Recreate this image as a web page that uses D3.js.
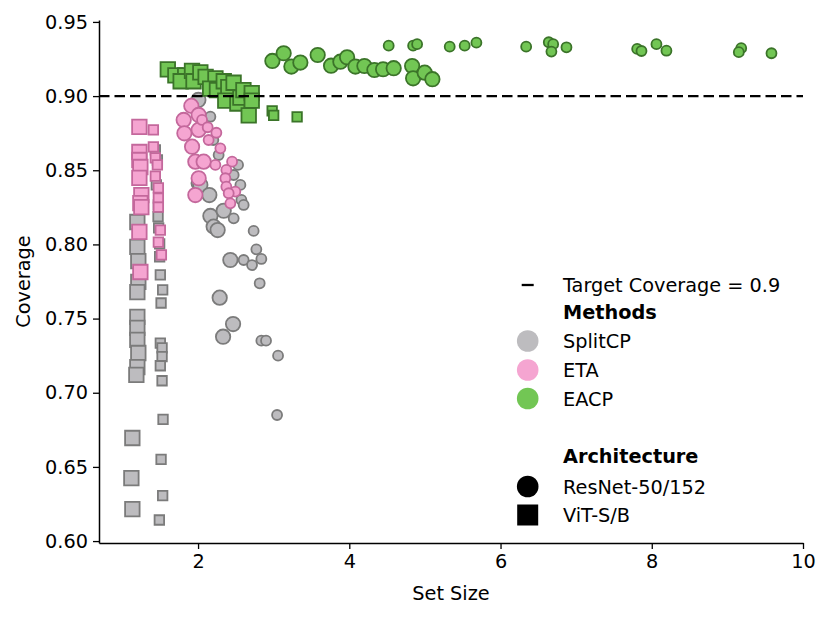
<!DOCTYPE html>
<html>
<head>
<meta charset="utf-8">
<script src="https://cdn.jsdelivr.net/npm/d3@7"></script>
<style>
  body { margin: 0; background: #fff; }
  svg text { font-family: "DejaVu Sans", sans-serif; }
</style>
</head>
<body>
<svg id="chart" width="830" height="618"></svg>
<script>
// Data ----------------------------------------
// [set size, coverage] pairs, one array per method / architecture / model size
const splitcpResnetBig = [[2.004,0.8974],[2.008,0.8412],[2.030,0.8401],[2.149,0.8333],[2.163,0.8192],[2.339,0.8227],
  [2.206,0.8120],[2.259,0.8097],[2.427,0.7895],[2.286,0.7641],[2.463,0.7463],[2.331,0.7378]];
const splitcpResnetSmall = [[2.163,0.8861],[2.202,0.8704],[2.272,0.8603],[2.529,0.8536],[2.471,0.8468],[2.560,0.8401],
  [2.573,0.8300],[2.603,0.8266],[2.471,0.8176],[2.735,0.8091],[2.771,0.7967],[2.603,0.7895],[2.714,0.7861],
  [2.837,0.7902],[2.815,0.7738],[2.837,0.7351],[2.899,0.7351],[3.058,0.7250],[3.045,0.6850]];
const splitcpVitBig = [[1.197,0.8151],[1.197,0.7983],[1.210,0.7888],[1.210,0.7747],[1.197,0.7679],[1.197,0.7511],
  [1.197,0.7437],[1.197,0.7356],[1.210,0.7268],[1.197,0.7173],[1.184,0.7120],[1.131,0.6695],[1.118,0.6425],[1.131,0.6216]];
const splitcpVitSmall = [[1.435,0.8637],[1.462,0.8569],[1.448,0.8401],[1.475,0.8266],[1.471,0.8187],[1.479,0.8111],
  [1.492,0.8003],[1.492,0.7917],[1.501,0.7794],[1.532,0.7693],[1.511,0.7605],[1.501,0.7335],[1.524,0.7302],
  [1.524,0.7243],[1.501,0.7182],[1.524,0.7081],[1.537,0.6821],[1.511,0.6551],[1.532,0.6306],[1.488,0.6142]];

const etaResnetBig = [[1.911,0.8934],[1.810,0.8839],[2.008,0.8873],[1.819,0.8749],[2.008,0.8772],[1.921,0.8659],
  [1.964,0.8558],[2.074,0.8558],[2.008,0.8446],[1.964,0.8333]];
const etaResnetSmall = [[2.053,0.8839],[2.127,0.8790],[2.242,0.8753],[2.140,0.8704],[2.295,0.8648],[2.229,0.8536],
  [2.450,0.8558],[2.374,0.8502],[2.361,0.8446],[2.374,0.8389],[2.493,0.8356],[2.405,0.8345],[2.427,0.8277]];
const etaVitBig = [[1.224,0.8792],[1.224,0.8623],[1.224,0.8569],[1.237,0.8522],[1.224,0.8448],[1.250,0.8333],
  [1.237,0.8279],[1.250,0.8252],[1.224,0.8084],[1.237,0.7814]];
const etaVitSmall = [[1.409,0.8772],[1.409,0.8657],[1.435,0.8583],[1.462,0.8536],[1.435,0.8461],[1.475,0.8381],
  [1.475,0.8313],[1.475,0.8252],[1.501,0.8097],[1.475,0.8016],[1.515,0.7929]];

const eacpResnetBig = [[2.983,0.9237],[3.132,0.9289],[3.234,0.9199],[3.353,0.9226],[3.582,0.9277],[3.759,0.9205],
  [3.882,0.9232],[3.971,0.9262],[4.081,0.9199],[4.200,0.9203],[4.332,0.9176],[4.447,0.9181],[4.587,0.9188],
  [4.831,0.9203],[4.844,0.9120],[4.997,0.9158],[5.099,0.9114]];
const eacpResnetSmall = [[4.521,0.9340],[4.844,0.9340],[4.897,0.9350],[5.328,0.9333],[5.526,0.9340],[5.681,0.9360],
  [6.339,0.9333],[6.638,0.9363],[6.696,0.9350],[6.673,0.9300],[6.872,0.9329],[7.807,0.9318],[7.864,0.9304],
  [8.062,0.9350],[8.194,0.9306],[9.183,0.9323],[9.151,0.9296],[9.583,0.9289]];
const eacpVitBig = [[1.60,0.918],[1.70,0.914],[1.83,0.914],[1.77,0.910],[1.92,0.917],[1.94,0.910],[2.03,0.916],
  [2.10,0.913],[2.23,0.912],[2.16,0.905],[2.25,0.904],[2.34,0.910],[2.40,0.906],[2.47,0.909],[2.36,0.897],
  [2.52,0.895],[2.56,0.899],[2.60,0.904],[2.71,0.902],[2.71,0.897],[2.67,0.887]];
const eacpVitSmall = [[2.98,0.890],[3.00,0.887],[3.31,0.886]];

const targetCoverage = 0.9;
const xTicks = [2, 4, 6, 8, 10];
const yTicks = [0.60, 0.65, 0.70, 0.75, 0.80, 0.85, 0.90, 0.95];
const methodNames = ["SplitCP", "ETA", "EACP"];
const archNames = ["ResNet-50/152", "ViT-S/B"];

// Styles ----------------------------------------
const methodFill = { SplitCP: "#bdbcbf", ETA: "#f5a5d1", EACP: "#72c654" };
const methodEdge = { SplitCP: "#7b7b7b", ETA: "#c4689c", EACP: "#3b7429" };
const fontSize = "19.3px";

const groups = [
  { method: "SplitCP", shape: "circle", big: true,  data: splitcpResnetBig },
  { method: "SplitCP", shape: "circle", big: false, data: splitcpResnetSmall },
  { method: "SplitCP", shape: "square", big: true,  data: splitcpVitBig },
  { method: "SplitCP", shape: "square", big: false, data: splitcpVitSmall },
  { method: "ETA",     shape: "circle", big: true,  data: etaResnetBig },
  { method: "ETA",     shape: "circle", big: false, data: etaResnetSmall },
  { method: "ETA",     shape: "square", big: true,  data: etaVitBig },
  { method: "ETA",     shape: "square", big: false, data: etaVitSmall },
  { method: "EACP",    shape: "circle", big: true,  data: eacpResnetBig },
  { method: "EACP",    shape: "circle", big: false, data: eacpResnetSmall },
  { method: "EACP",    shape: "square", big: true,  data: eacpVitBig },
  { method: "EACP",    shape: "square", big: false, data: eacpVitSmall }
];

// Chart base ----------------------------------------
const margin = { top: 20, right: 27, bottom: 75, left: 99 };
const width = 830 - margin.left - margin.right;
const height = 618 - margin.top - margin.bottom;

const svg = d3.select("#chart")
  .append("g")
  .attr("transform", `translate(${margin.left},${margin.top})`);

const x = d3.scaleLinear().domain([0.69, 10]).range([0, width]);
const y = d3.scaleLinear().domain([0.5987, 0.9513]).range([height, 0]);

// Points
const circleSym = d3.symbol().type(d3.symbolCircle);
const squareSym = d3.symbol().type(d3.symbolSquare);

groups.forEach(g => {
  let sym;
  if (g.shape === "circle") {
    const r = g.big ? 7.2 : 5.0;
    sym = circleSym.size(Math.PI * r * r)();
  } else {
    const s = g.big ? 14.5 : 9.5;
    sym = squareSym.size(s * s)();
  }
  svg.append("g")
    .selectAll("path")
    .data(g.data)
    .enter().append("path")
    .attr("d", sym)
    .attr("transform", d => `translate(${x(d[0])},${y(d[1])})`)
    .attr("fill", methodFill[g.method])
    .attr("stroke", methodEdge[g.method])
    .attr("stroke-width", 1.8);
});

// Target line
svg.append("line")
  .attr("x1", 0).attr("x2", x(10))
  .attr("y1", y(targetCoverage)).attr("y2", y(targetCoverage))
  .attr("stroke", "#000")
  .attr("stroke-width", 2.3)
  .attr("stroke-dasharray", "10.5,5");

// Axes
const xAxis = svg.append("g")
  .attr("transform", `translate(0,${height})`)
  .call(d3.axisBottom(x).tickValues(xTicks).tickFormat(d3.format("d")).tickSize(6).tickPadding(5).tickSizeOuter(0));
const yAxis = svg.append("g")
  .call(d3.axisLeft(y).tickValues(yTicks).tickFormat(d3.format(".2f")).tickSize(6).tickPadding(5).tickSizeOuter(0));

[xAxis, yAxis].forEach(a => {
  a.selectAll("text").attr("font-size", fontSize).attr("fill", "#000")
    .style("font-family", "DejaVu Sans");
  a.selectAll("line").attr("stroke-width", 1.3);
  a.select(".domain").attr("stroke-width", 1.5);
});

svg.append("text")
  .attr("x", width / 2).attr("y", height + 57)
  .attr("text-anchor", "middle")
  .attr("font-size", fontSize)
  .text("Set Size");

svg.append("text")
  .attr("transform", `translate(${-69},${height / 2}) rotate(-90)`)
  .attr("text-anchor", "middle")
  .attr("font-size", fontSize)
  .text("Coverage");

// Legend ----------------------------------------
const legend = d3.select("#chart").append("g");
const lx = 527.7, tx = 563;

legend.append("line")
  .attr("x1", lx - 6).attr("x2", lx + 6)
  .attr("y1", 285).attr("y2", 285)
  .attr("stroke", "#000").attr("stroke-width", 2.3);
legend.append("text").attr("x", tx).attr("y", 291.5)
  .attr("font-size", fontSize).text("Target Coverage = 0.9");

legend.append("text").attr("x", tx).attr("y", 319.3)
  .attr("font-size", fontSize).attr("font-weight", "bold").text("Methods");

const methodY = [341, 370, 398.5];
methodNames.forEach((m, i) => {
  legend.append("circle").attr("cx", lx).attr("cy", methodY[i]).attr("r", 10.8)
    .attr("fill", methodFill[m]);
  legend.append("text").attr("x", tx).attr("y", methodY[i] + 7)
    .attr("font-size", fontSize).text(m);
});

legend.append("text").attr("x", tx).attr("y", 463.3)
  .attr("font-size", fontSize).attr("font-weight", "bold").text("Architecture");

legend.append("circle").attr("cx", lx).attr("cy", 486.5).attr("r", 10.8).attr("fill", "#000");
legend.append("text").attr("x", tx).attr("y", 493.5)
  .attr("font-size", fontSize).text(archNames[0]);
legend.append("rect").attr("x", lx - 10.5).attr("y", 515 - 10.5).attr("width", 21).attr("height", 21).attr("fill", "#000");
legend.append("text").attr("x", tx).attr("y", 522)
  .attr("font-size", fontSize).text(archNames[1]);
</script>
</body>
</html>
